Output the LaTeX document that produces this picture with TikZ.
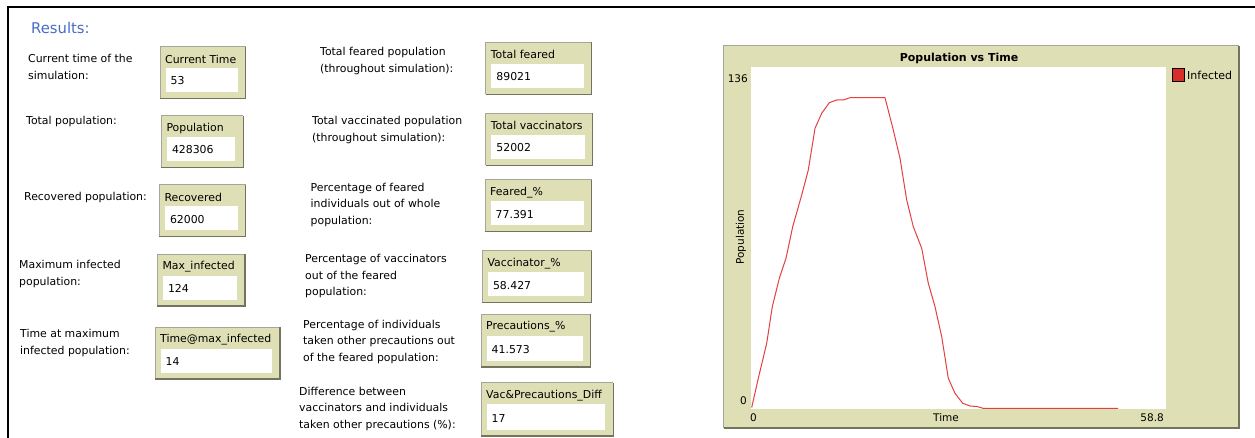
\documentclass[tikz,border=0pt]{standalone}
\usepackage{fontspec}
\setmainfont{DejaVu Sans}
\definecolor{panel}{RGB}{223,223,182}
\definecolor{edgelight}{RGB}{165,165,155}
\definecolor{edgedark}{RGB}{115,115,95}
\definecolor{headblue}{RGB}{72,108,196}
\definecolor{curvered}{RGB}{228,64,64}
\definecolor{legendred}{RGB}{218,44,40}

% One monitor widget: #1 name, #2 left, #3 top, #4 right, #5 bottom, #6 caption, #7 reading
\newcommand\monitorbox[7]{%
  \fill[panel] (#2,#3) rectangle (#4,#5);
  \draw[edgelight,line width=1pt] (#2,#5) -- (#2,#3) -- (#4,#3);
  \draw[edgedark,line width=1.2pt] (#2,#5) -- (#4,#5) -- (#4,#3);
  \fill[white] (#2+5.5,#3+21.5) rectangle (#4-8,#5-6.5);
  \node[montext] (#1-title) at (#2+5,#3+12.5) {#6};
  \node[montext] (#1-value) at (#2+10.5,#5-17.5) {#7};
}

\begin{document}
\begin{tikzpicture}[x=1pt,y=-1pt,
  lbl/.style={anchor=west,inner sep=0pt,align=left,font=\fontsize{10.9}{16.5}\selectfont},
  montext/.style={anchor=west,inner sep=0pt,font=\fontsize{10.9}{13}\selectfont},
  axislbl/.style={inner sep=0pt,font=\fontsize{10.5}{12}\selectfont}]
\useasboundingbox (0,0) rectangle (1255,438);
\fill[white] (0,0) rectangle (1255,438);

% frame of the results area
\draw[black,line width=2pt] (8,438) -- (8,7) -- (1255,7);

\node[anchor=west,inner sep=0pt,text=headblue,font=\fontsize{14.8}{16}\selectfont] (results) at (31,28) {Results:};

% left column
\node[lbl] (l1) at (28,67) {Current time of the\\simulation:};
\node[lbl] (l2) at (26,121) {Total population:};
\node[lbl] (l3) at (24,197) {Recovered population:};
\node[lbl] (l4) at (19,274) {Maximum infected\\population:};
\node[lbl] (l5) at (20,343) {Time at maximum\\infected population:};

\monitorbox{m1}{160}{46.7}{245.7}{98.3}{Current Time}{53}
\monitorbox{m2}{161.3}{115.7}{243.3}{167.5}{Population}{428306}
\monitorbox{m3}{159.3}{185}{245.7}{236.7}{Recovered}{62000}
\monitorbox{m4}{157.3}{254.3}{245}{306}{Max\_infected}{124}
\monitorbox{m5}{155}{327.3}{280}{379}{Time@max\_infected}{14}

% middle column
\node[lbl] (r1) at (320,61) {Total feared population\\(throughout simulation):};
\node[lbl] (r2) at (312,130) {Total vaccinated population\\(throughout simulation):};
\node[lbl] (r3) at (310.5,204.5) {Percentage of feared\\individuals out of whole\\population:};
\node[lbl] (r4) at (305,276) {Percentage of vaccinators\\out of the feared\\population:};
\node[lbl] (r5) at (303,341.5) {Percentage of individuals\\taken other precautions out\\of the feared population:};
\node[lbl] (r6) at (299,408.5) {Difference between\\vaccinators and individuals\\taken other precautions (\%):};

\monitorbox{n1}{485.7}{42.3}{591.7}{94.3}{Total feared}{89021}
\monitorbox{n2}{485.7}{113.3}{592.7}{165.3}{Total vaccinators}{52002}
\monitorbox{n3}{485}{180}{591.7}{231.7}{Feared\_\%}{77.391}
\monitorbox{n4}{482.3}{250.7}{591.7}{302.7}{Vaccinator\_\%}{58.427}
\monitorbox{n5}{481}{314}{590.7}{367}{Precautions\_\%}{41.573}
\monitorbox{n6}{481}{382.7}{613.3}{436}{Vac\&Precautions\_Diff}{17}

% plot widget
\fill[panel] (723.5,46) rectangle (1239,428);
\draw[edgelight,line width=1pt] (723.5,428) -- (723.5,46) -- (1239,46);
\draw[edgedark,line width=1.5pt] (723.5,428) -- (1239,428) -- (1239,46);
\fill[white] (751,67) rectangle (1166,409);

\node[inner sep=0pt,font=\fontsize{11}{13}\selectfont\bfseries] (ptitle) at (959,58) {Population vs Time};
\node[axislbl,anchor=east] (ymax) at (748,79) {136};
\node[axislbl,anchor=east] (ymin) at (747,401) {0};
\node[axislbl,anchor=west] (xmin) at (750,418) {0};
\node[axislbl] (xname) at (946,418) {Time};
\node[axislbl,anchor=east] (xmax) at (1164,418) {58.8};
\node[axislbl,rotate=90] (yname) at (741,237) {Population};

% legend
\draw[black,fill=legendred,line width=0.8pt] (1172,68) rectangle (1184,81);
\node[anchor=west,inner sep=0pt,font=\fontsize{11}{13}\selectfont] (legend) at (1187,75) {Infected};

% infected count over time
\draw[curvered,line width=1pt,line join=round]
  (751.7,407.5) -- (758.3,378.3) -- (766.7,343.3) -- (772.3,306.7) -- (779.3,278.3)
  -- (786,258.3) -- (792.7,226.7) -- (801.7,195) -- (808.3,170) -- (815,128.3)
  -- (821.7,113.3) -- (829.3,102.7) -- (836.7,100) -- (843.3,100) -- (850,97.7)
  -- (885,97.7) -- (893.3,130) -- (900,158.3) -- (906.7,200) -- (913.3,226.7)
  -- (921.7,248.3) -- (928.3,283.3) -- (935,306.7) -- (941.7,336.7) -- (948.3,378.3)
  -- (955,393.3) -- (962.7,403.3) -- (970,406) -- (977,406.5) -- (983,408.3)
  -- (1118,408.3);
\end{tikzpicture}
\end{document}
